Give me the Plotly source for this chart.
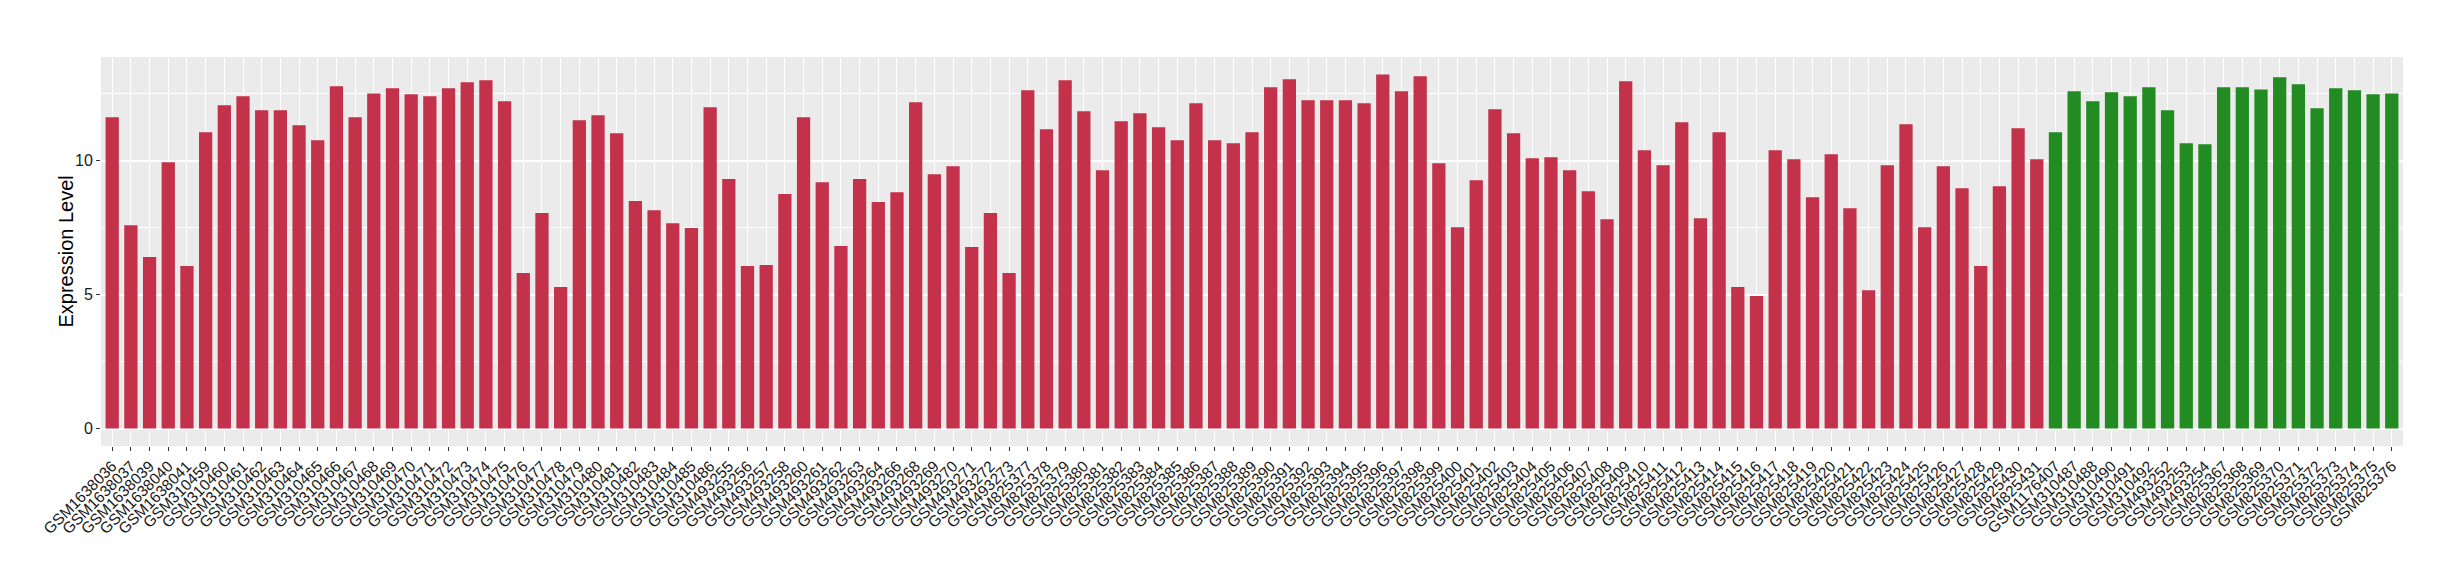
import plotly.graph_objects as go

red_samples = [
    "GSM1638036", "GSM1638037", "GSM1638039", "GSM1638040", "GSM1638041",
    "GSM310459", "GSM310460", "GSM310461", "GSM310462", "GSM310463", "GSM310464",
    "GSM310465", "GSM310466", "GSM310467", "GSM310468", "GSM310469", "GSM310470",
    "GSM310471", "GSM310472", "GSM310473", "GSM310474", "GSM310475", "GSM310476",
    "GSM310477", "GSM310478", "GSM310479", "GSM310480", "GSM310481", "GSM310482",
    "GSM310483", "GSM310484", "GSM310485", "GSM310486",
    "GSM493255", "GSM493256", "GSM493257", "GSM493258", "GSM493260", "GSM493261",
    "GSM493262", "GSM493263", "GSM493264", "GSM493266", "GSM493268", "GSM493269",
    "GSM493270", "GSM493271", "GSM493272", "GSM493273",
] + ["GSM%d" % n for n in range(825377, 825432)]

red_values = [
    11.63, 7.60, 6.41, 9.95, 6.07,
    11.07, 12.08, 12.41, 11.89, 11.89, 11.33,
    10.77, 12.79, 11.63, 12.52, 12.71, 12.49,
    12.41, 12.71, 12.94, 13.01, 12.23, 5.81,
    8.05, 5.29, 11.52, 11.70, 11.03, 8.50,
    8.16, 7.67, 7.49, 12.00,
    9.32, 6.07, 6.11, 8.76, 11.63, 9.20,
    6.82, 9.32, 8.46, 8.83, 12.19, 9.50,
    9.80, 6.78, 8.05, 5.81,
    # GSM825377 - GSM825431
    12.64, 11.18, 13.01, 11.85, 9.65, 11.48, 11.78, 11.26, 10.77, 12.15,
    10.77, 10.66, 11.07, 12.75, 13.05, 12.26, 12.26, 12.26, 12.15, 13.23,
    12.60, 13.16, 9.91, 7.52, 9.28, 11.93, 11.03, 10.10, 10.14, 9.65,
    8.87, 7.82, 12.97, 10.40, 9.84, 11.44, 7.86, 11.07, 5.29, 4.95,
    10.40, 10.06, 8.64, 10.25, 8.23, 5.17, 9.84, 11.37, 7.52, 9.80,
    8.98, 6.07, 9.05, 11.22, 10.06,
]

green_samples = [
    "GSM1176407", "GSM310487", "GSM310488", "GSM310490", "GSM310491", "GSM310492",
    "GSM493252", "GSM493253", "GSM493254",
] + ["GSM%d" % n for n in range(825367, 825377)]

green_values = [
    11.07, 12.60, 12.23, 12.56, 12.41, 12.75,
    11.89, 10.66, 10.62,
    12.75, 12.75, 12.67, 13.12, 12.86, 11.97, 12.71, 12.64, 12.49, 12.52,
]

y_ticks = [0, 5, 10]
RED = "#C3314A"
GREEN = "#228B22"

categories = red_samples + green_samples

fig = go.Figure()
fig.add_trace(go.Bar(x=red_samples, y=red_values, marker=dict(color=RED, line=dict(width=0)),
                     width=0.71, showlegend=False))
fig.add_trace(go.Bar(x=green_samples, y=green_values, marker=dict(color=GREEN, line=dict(width=0)),
                     width=0.71, showlegend=False))

# the page body has an 8px default margin; compensate so the panel sits where it should
W, H = 2452, 572
ml, mr, mt, mb = 93, 57, 49, 134
fig.update_layout(
    width=W, height=H,
    margin=dict(l=ml, r=mr, t=mt, b=mb, autoexpand=False),
    paper_bgcolor="white",
    plot_bgcolor="#EBEBEB",
    font=dict(family="Liberation Sans, Arial, sans-serif", color="#1A1A1A"),
    bargap=0.29,
)
fig.update_xaxes(
    type="category",
    categoryorder="array", categoryarray=categories,
    tickmode="linear", tick0=0, dtick=1,
    range=[-0.6, len(categories) - 0.4],
    tickangle=-45,
    tickfont=dict(size=15.5, color="#1A1A1A"),
    ticks="outside", ticklen=4, tickwidth=1, tickcolor="#333333",
    showgrid=True, gridcolor="white", gridwidth=1.1,
    zeroline=False, showline=False, automargin=False,
)
fig.update_yaxes(
    range=[-0.65, 13.88],
    tickvals=y_ticks,
    tickfont=dict(size=16, color="#1A1A1A"),
    ticks="outside", ticklen=4, tickwidth=1, tickcolor="#333333",
    showgrid=True, gridcolor="white", gridwidth=1.6,
    minor=dict(tickvals=[2.5, 7.5, 12.5], showgrid=True, gridcolor="white", gridwidth=0.8, ticks=""),
    zeroline=False, showline=False, automargin=False,
)
plot_w = W - ml - mr
fig.add_annotation(
    text="Expression Level", textangle=-90,
    xref="paper", yref="paper", x=(57 - ml) / plot_w, y=0.5,
    xanchor="center", yanchor="middle", showarrow=False,
    font=dict(size=20, color="#000000"),
)

fig.write_html("out.html")
